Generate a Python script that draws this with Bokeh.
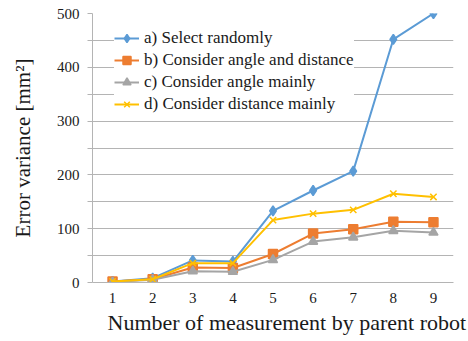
from bokeh.plotting import figure
from bokeh.models import FixedTicker, Legend, LegendItem, ColumnDataSource, Title
from bokeh.embed import file_html
from bokeh.resources import INLINE

x = [1, 2, 3, 4, 5, 6, 7, 8, 9]
a_random = [2, 8, 41, 39, 133, 171, 207, 452, 500]
b_angle_dist = [2, 6, 28, 27, 53, 91, 99, 113, 112]
c_angle = [1, 5, 21, 20, 42, 76, 84, 96, 93]
d_dist = [2, 6, 36, 36, 116, 128, 135, 165, 159]
labels = ["a) Select randomly", "b) Consider angle and distance",
          "c) Consider angle mainly", "d) Consider distance mainly"]
colors = ["#5B9BD5", "#ED7D31", "#A5A5A5", "#FFC000"]
y_ticks = [0, 100, 200, 300, 400, 500]
y_minor = [50, 150, 250, 350, 450]
x_title = "Number of measurement by parent robot"
y_title = "Error variance [mm²]"

FONT = "Liberation Serif"
TXT = "#1a1a1a"
GRID = "#b4b4b4"

p = figure(width=468, height=341, x_range=(0.5, 9.5), y_range=(0, 500),
           output_backend="svg", toolbar_location=None)
p.min_border_left = 92
p.min_border_right = 15
p.min_border_top = 13
p.min_border_bottom = 59
p.outline_line_color = None
p.background_fill_color = "white"

p.xgrid.grid_line_color = None
p.ygrid.grid_line_color = GRID
p.ygrid.minor_grid_line_color = GRID
p.yaxis.ticker = FixedTicker(ticks=y_ticks, minor_ticks=y_minor)
p.xaxis.ticker = FixedTicker(ticks=x)

for ax in (p.xaxis[0], p.yaxis[0]):
    ax.axis_line_color = GRID
    ax.major_label_text_font = FONT
    ax.major_label_text_font_size = "15px"
    ax.major_label_text_color = TXT
    ax.axis_label_text_font = FONT
    ax.axis_label_text_font_size = "21px"
    ax.axis_label_text_font_style = "normal"
    ax.axis_label_text_color = TXT

p.yaxis.major_tick_line_color = GRID
p.yaxis.minor_tick_line_color = GRID
p.yaxis.major_tick_out = 5
p.yaxis.major_tick_in = 0
p.yaxis.minor_tick_out = 5
p.yaxis.minor_tick_in = 0
p.yaxis.major_label_standoff = 8
p.yaxis.axis_label = y_title
p.yaxis.axis_label_standoff = 19

p.xaxis.major_tick_line_color = None
p.xaxis.minor_tick_line_color = None
p.xaxis.major_label_standoff = 4

xt = Title(text=x_title, align="left", offset=15,
           text_font=FONT, text_font_size="22px", text_font_style="normal",
           text_color=TXT, standoff=4)
p.add_layout(xt, "below")

series = [a_random, b_angle_dist, c_angle, d_dist]
markers = ["diamond", "square", "triangle", "x"]
sizes = [10, 9, 9, 9]
items = []
for ys, lab, col, mk, sz in zip(series, labels, colors, markers, sizes):
    src = ColumnDataSource(dict(x=x, y=ys))
    r1 = p.line("x", "y", source=src, line_color=col, line_width=2)
    r2 = p.scatter("x", "y", source=src, marker=mk, size=sz,
                   fill_color=col, line_color=col, line_width=1.5)
    items.append(LegendItem(label=lab, renderers=[r1, r2]))

legend = Legend(items=items, location=(22, 168))
legend.label_text_font = FONT
legend.label_text_font_size = "17px"
legend.label_text_color = TXT
legend.border_line_color = None
legend.background_fill_color = "white"
legend.background_fill_alpha = 1.0
legend.padding = 6
legend.margin = 0
legend.spacing = 2
legend.glyph_width = 25
legend.glyph_height = 20
legend.label_height = 20
legend.label_standoff = 5
p.add_layout(legend, "center")

open("out.html", "w").write(file_html(p, INLINE))
